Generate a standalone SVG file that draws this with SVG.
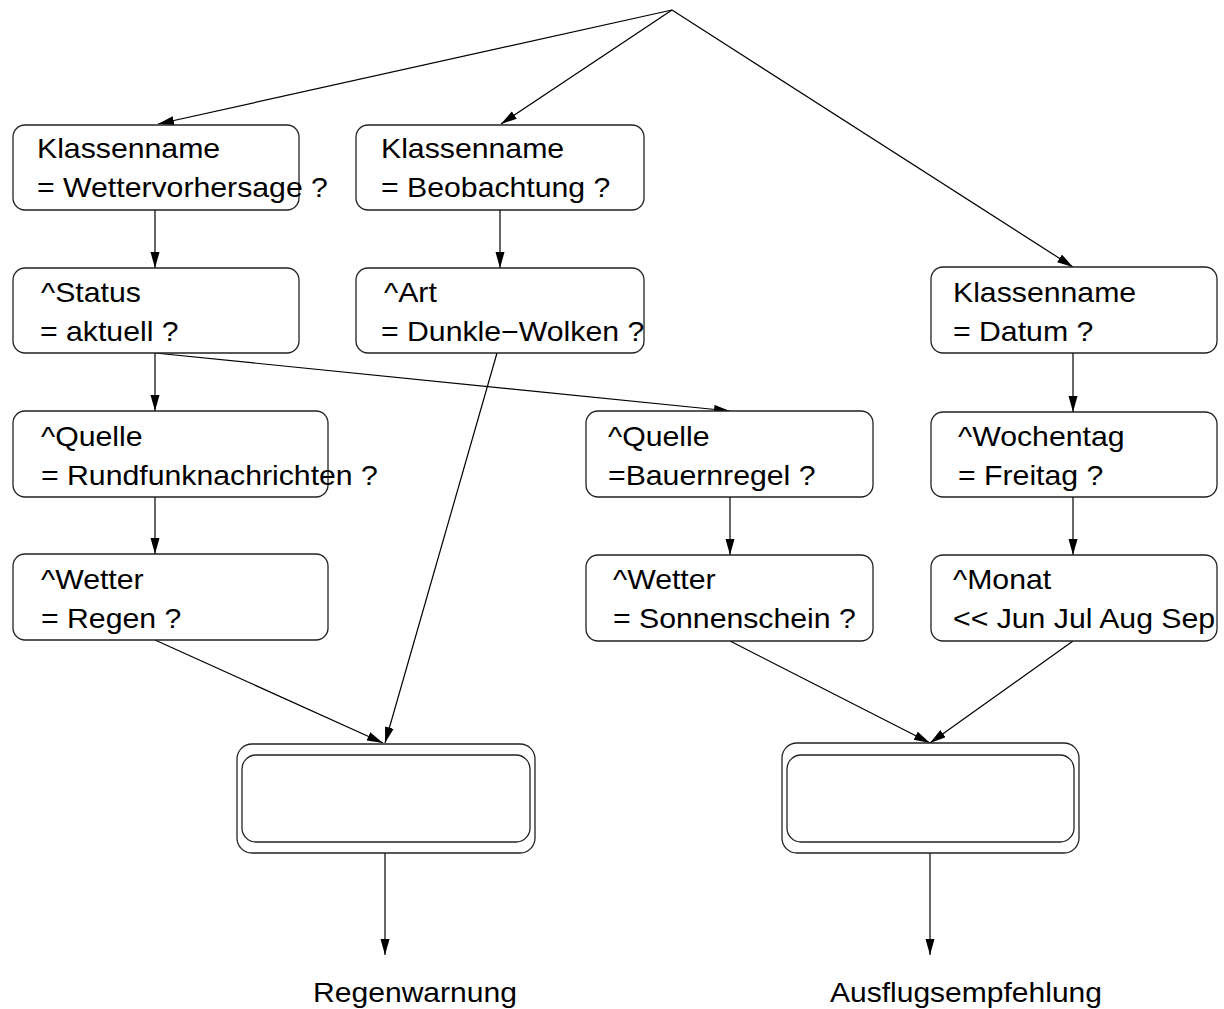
<svg xmlns="http://www.w3.org/2000/svg" width="1224" height="1009" viewBox="0 0 1224 1009">
  <style>
    .box { fill: #ffffff; stroke: #222222; stroke-width: 1.3; }
    .edge { fill: none; stroke: #000000; stroke-width: 1.2; marker-end: url(#head); }
    text { font-family: "Liberation Sans", Arial, Helvetica, sans-serif; font-size: 28px; fill: #000000; }
    .lbl { font-size: 28px; }
  </style>
  <defs>
    <marker id="head" markerUnits="userSpaceOnUse" markerWidth="17" markerHeight="10" refX="16" refY="4.5" orient="auto">
      <path d="M0,0 L16,4.5 L0,9 z" fill="#000000"/>
    </marker>
  </defs>
  <rect width="1224" height="1009" fill="#ffffff"/>

  <!-- connectors -->
  <g id="connectors">
    <line class="edge" x1="672" y1="10" x2="158" y2="124"/>
    <line class="edge" x1="672" y1="10" x2="501" y2="124"/>
    <line class="edge" x1="672" y1="10" x2="1073" y2="267"/>
    <line class="edge" x1="155" y1="210" x2="155" y2="268"/>
    <line class="edge" x1="500" y1="210" x2="500" y2="268"/>
    <line class="edge" x1="155" y1="353" x2="155" y2="411"/>
    <line class="edge" x1="155" y1="353" x2="730" y2="411"/>
    <line class="edge" x1="155" y1="497" x2="155" y2="554"/>
    <line class="edge" x1="730" y1="497" x2="730" y2="555"/>
    <line class="edge" x1="1073" y1="353" x2="1073" y2="412"/>
    <line class="edge" x1="1073" y1="497" x2="1073" y2="555"/>
    <line class="edge" x1="155" y1="640" x2="383" y2="743"/>
    <line class="edge" x1="497" y1="353" x2="385" y2="743"/>
    <line class="edge" x1="730" y1="641" x2="930" y2="743"/>
    <line class="edge" x1="1073" y1="641" x2="930" y2="743"/>
    <line class="edge" x1="385" y1="853" x2="385" y2="955"/>
    <line class="edge" x1="930" y1="853" x2="930" y2="955"/>
  </g>

  <!-- left column -->
  <g id="klasse-wettervorhersage">
    <rect class="box" x="13" y="125" width="286" height="85" rx="12"/>
    <text transform="translate(37 158) scale(1.08 1)">Klassenname</text>
    <text transform="translate(37 197) scale(1.08 1)">= Wettervorhersage ?</text>
  </g>
  <g id="status-aktuell">
    <rect class="box" x="13" y="268" width="286" height="85" rx="12"/>
    <text transform="translate(41 302) scale(1.08 1)">^Status</text>
    <text transform="translate(40 341) scale(1.08 1)">= aktuell ?</text>
  </g>
  <g id="quelle-rundfunk">
    <rect class="box" x="13" y="411" width="315" height="86" rx="12"/>
    <text transform="translate(41 446) scale(1.08 1)">^Quelle</text>
    <text transform="translate(41 485) scale(1.08 1)">= Rundfunknachrichten ?</text>
  </g>
  <g id="wetter-regen">
    <rect class="box" x="13" y="554" width="315" height="86" rx="12"/>
    <text transform="translate(41 589) scale(1.08 1)">^Wetter</text>
    <text transform="translate(41 628) scale(1.08 1)">= Regen ?</text>
  </g>

  <!-- middle column -->
  <g id="klasse-beobachtung">
    <rect class="box" x="356" y="125" width="288" height="85" rx="12"/>
    <text transform="translate(381 158) scale(1.08 1)">Klassenname</text>
    <text transform="translate(381 197) scale(1.08 1)">= Beobachtung ?</text>
  </g>
  <g id="art-dunkle-wolken">
    <rect class="box" x="356" y="268" width="288" height="85" rx="12"/>
    <text transform="translate(384 302) scale(1.08 1)">^Art</text>
    <text transform="translate(381 341) scale(1.08 1)">= Dunkle−Wolken ?</text>
  </g>
  <g id="quelle-bauernregel">
    <rect class="box" x="586" y="411" width="287" height="86" rx="12"/>
    <text transform="translate(608 446) scale(1.08 1)">^Quelle</text>
    <text transform="translate(608 485) scale(1.08 1)">=Bauernregel ?</text>
  </g>
  <g id="wetter-sonnenschein">
    <rect class="box" x="586" y="555" width="287" height="86" rx="12"/>
    <text transform="translate(613 589) scale(1.08 1)">^Wetter</text>
    <text transform="translate(613 628) scale(1.08 1)">= Sonnenschein ?</text>
  </g>

  <!-- right column -->
  <g id="klasse-datum">
    <rect class="box" x="931" y="267" width="286" height="86" rx="12"/>
    <text transform="translate(953 302) scale(1.08 1)">Klassenname</text>
    <text transform="translate(953 341) scale(1.08 1)">= Datum ?</text>
  </g>
  <g id="wochentag-freitag">
    <rect class="box" x="931" y="412" width="286" height="85" rx="12"/>
    <text transform="translate(958 446) scale(1.08 1)">^Wochentag</text>
    <text transform="translate(958 485) scale(1.08 1)">= Freitag ?</text>
  </g>
  <g id="monat-sommer">
    <rect class="box" x="931" y="555" width="286" height="86" rx="12"/>
    <text transform="translate(953 589) scale(1.08 1)">^Monat</text>
    <text transform="translate(953 628) scale(1.08 1)">&lt;&lt; Jun Jul Aug Sep</text>
  </g>

  <!-- result nodes -->
  <g id="regenwarnung">
    <rect class="box" x="237" y="744" width="298" height="109" rx="15"/>
    <rect class="box" x="242" y="755" width="288" height="87" rx="14"/>
    <text class="lbl" x="313" y="1002" textLength="204" lengthAdjust="spacingAndGlyphs">Regenwarnung</text>
  </g>
  <g id="ausflugsempfehlung">
    <rect class="box" x="782" y="743" width="297" height="110" rx="15"/>
    <rect class="box" x="787" y="755" width="287" height="87" rx="14"/>
    <text class="lbl" x="830" y="1002" textLength="272" lengthAdjust="spacingAndGlyphs">Ausflugsempfehlung</text>
  </g>
</svg>
